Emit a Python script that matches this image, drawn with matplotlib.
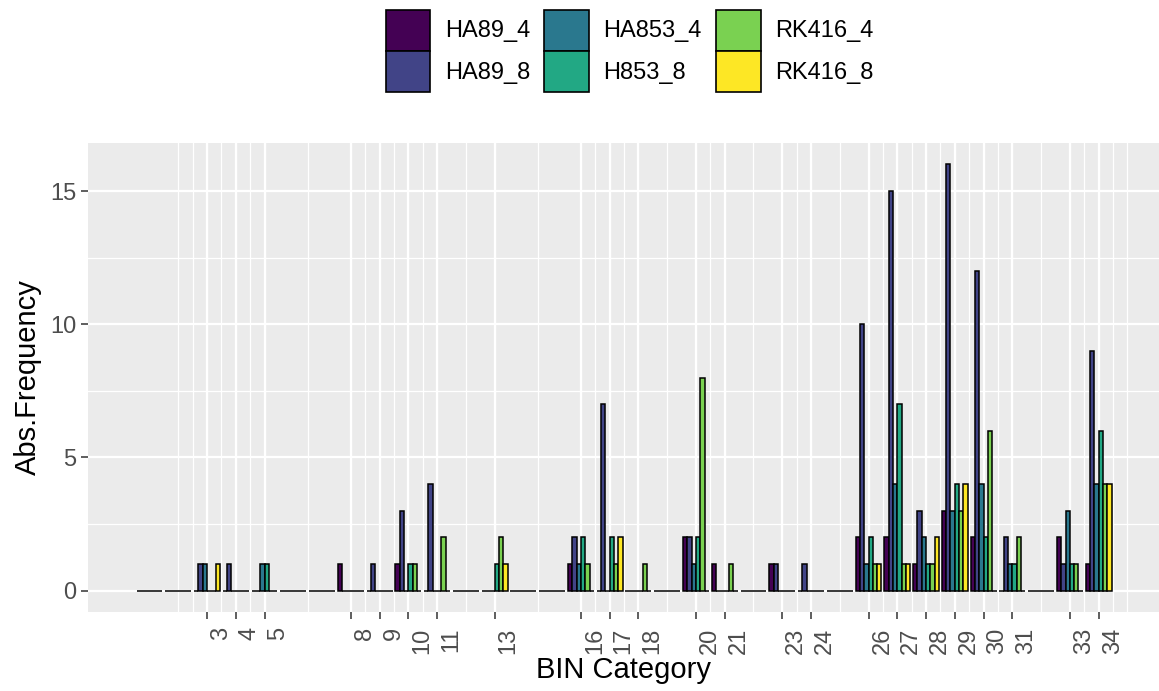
import numpy as np
import matplotlib
matplotlib.use('Agg')
import matplotlib.pyplot as plt
from matplotlib.patches import Patch
from matplotlib.transforms import ScaledTranslation

plt.rcParams['font.family'] = ['Liberation Sans', 'DejaVu Sans']

# Data: BIN category positions and absolute frequencies per series
bins = list(range(1, 35))
series = ['HA89_4', 'HA89_8', 'HA853_4', 'H853_8', 'RK416_4', 'RK416_8']
ha89_4 = [0, 0, 0, 0, 0, 0, 0, 1, 0, 1, 0, 0, 0, 0, 0, 1, 0, 0, 0, 2, 1, 0, 1, 0, 0, 2, 2, 1, 3, 2, 0, 0, 2, 1]
ha89_8 = [0, 0, 1, 1, 0, 0, 0, 0, 1, 3, 4, 0, 0, 0, 0, 2, 7, 0, 0, 2, 0, 0, 1, 1, 0, 10, 15, 3, 16, 12, 2, 0, 1, 9]
ha853_4 = [0, 0, 1, 0, 1, 0, 0, 0, 0, 0, 0, 0, 0, 0, 0, 1, 0, 0, 0, 1, 0, 0, 0, 0, 0, 1, 4, 2, 3, 4, 1, 0, 3, 4]
h853_8 = [0, 0, 0, 0, 1, 0, 0, 0, 0, 1, 0, 0, 1, 0, 0, 2, 2, 0, 0, 2, 0, 0, 0, 0, 0, 2, 7, 1, 4, 2, 1, 0, 1, 6]
rk416_4 = [0, 0, 0, 0, 0, 0, 0, 0, 0, 1, 2, 0, 2, 0, 0, 1, 1, 1, 0, 8, 1, 0, 0, 0, 0, 1, 1, 1, 3, 6, 2, 0, 1, 4]
rk416_8 = [0, 0, 1, 0, 0, 0, 0, 0, 0, 0, 0, 0, 1, 0, 0, 0, 2, 0, 0, 0, 0, 0, 0, 0, 0, 1, 1, 2, 4, 0, 0, 0, 0, 4]
values = [ha89_4, ha89_8, ha853_4, h853_8, rk416_4, rk416_8]

# labelled breaks on the x axis
breaks = [3, 4, 5, 8, 9, 10, 11, 13, 16, 17, 18, 20, 21, 23, 24, 26, 27, 28, 29, 30, 31, 33, 34]

colors = ['#440154', '#414487', '#2A788E', '#22A884', '#7AD151', '#FDE725']

fig = plt.figure(figsize=(11.59, 6.91), dpi=100)
ax = fig.add_axes([0.0759, 0.1143, 0.9241, 0.6787])
ax.set_facecolor('#EBEBEB')

# gridlines, ggplot style (minor at midpoints of breaks)
b = [breaks[0] - (breaks[1] - breaks[0])] + breaks + [breaks[-1] + (breaks[-1] - breaks[-2])]
minor = sorted(set(b + [(b[i] + b[i + 1]) / 2 for i in range(len(b) - 1)]))
for m in minor:
    ax.axvline(m, color='white', lw=0.9, zorder=0)
for m in breaks:
    ax.axvline(m, color='white', lw=1.6, zorder=0)
for y in [2.5, 7.5, 12.5]:
    ax.axhline(y, color='white', lw=0.9, zorder=0)
for y in [0, 5, 10, 15]:
    ax.axhline(y, color='white', lw=1.6, zorder=0)

# dodged bars
n = len(series)
w = 0.9 / n
x = np.array(bins, dtype=float)
for i in range(n):
    ax.bar(x - 0.45 + w * (i + 0.5), values[i], width=w, color=colors[i],
           edgecolor='black', linewidth=1.1, zorder=3)

ax.set_xlim(-1.14, 36.1)
ax.set_ylim(-0.8, 16.8)
ax.set_xticks(breaks)
ax.set_xticklabels([str(v) for v in breaks], rotation=90, ha='left', va='top')
ax.set_yticks([0, 5, 10, 15])
ax.tick_params(axis='both', colors='#333333', labelcolor='#4D4D4D', labelsize=17, length=5, width=1.1)
ax.tick_params(axis='x', pad=6)
shift = ScaledTranslation(3 / 100, 0, fig.dpi_scale_trans)
for lbl in ax.get_xticklabels():
    lbl.set_transform(lbl.get_transform() + shift)
for s in ax.spines.values():
    s.set_visible(False)

ax.set_xlabel('BIN Category', fontsize=21, labelpad=2)
ax.set_ylabel('Abs.Frequency', fontsize=21, labelpad=6)

handles = [Patch(facecolor=c, edgecolor='black', linewidth=1.2) for c in colors]
fig.legend(handles, series, ncol=3, loc='upper center', bbox_to_anchor=(0.543, 1.01),
           frameon=False, fontsize=17, handlelength=1.9, handleheight=2.3,
           handletextpad=0.6, columnspacing=0.6, labelspacing=0.0, borderpad=0.2)

plt.savefig('out.png', dpi=100)
